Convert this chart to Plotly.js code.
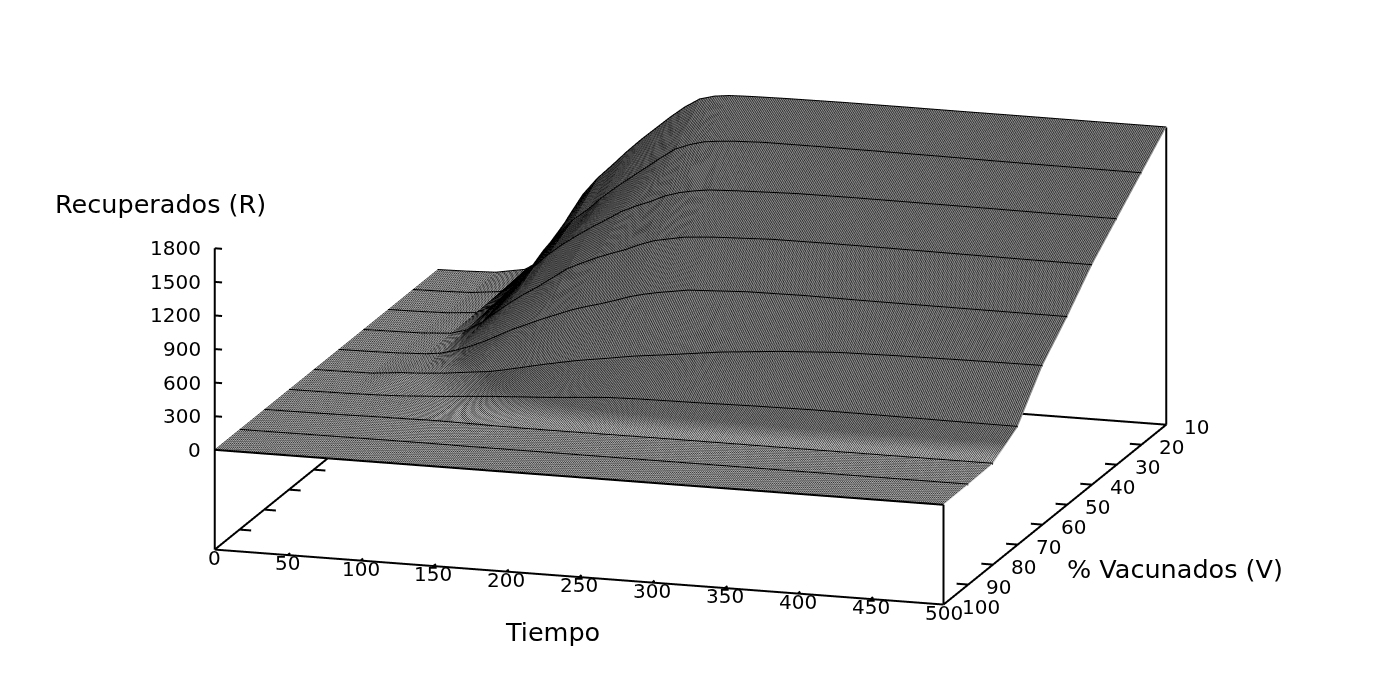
<!DOCTYPE html>
<html>
<head>
<meta charset="utf-8">
<script src="https://cdn.plot.ly/plotly-3.0.1.min.js"></script>
<style>
html, body { margin: 0; padding: 0; background: #fff; }
#plot { width: 1381px; height: 689px; }
</style>
</head>
<body>
<div id="plot"></div>
<script>
const tiempo = [0, 20, 40, 60, 70, 80, 90, 100, 110, 120, 130, 140, 150, 160, 170, 180, 190, 200, 210, 220, 240, 280, 320, 360, 400, 450, 500];
const vacunados = [10, 20, 30, 40, 50, 60, 70, 80, 90, 100];

// values, one row per % vacunados
const r10 = [0, 5, 15, 60, 140, 330, 560, 770, 925, 1050, 1180, 1300, 1410, 1520, 1620, 1700, 1735, 1750, 1755, 1758, 1762, 1766, 1766, 1765, 1765, 1764, 1764];
const r20 = [0, 4, 12, 40, 120, 250, 440, 600, 730, 830, 950, 1054, 1150, 1245, 1340, 1430, 1480, 1515, 1530, 1540, 1550, 1550, 1548, 1545, 1540, 1536, 1533];
const r30 = [0, 3, 10, 30, 90, 190, 340, 480, 600, 700, 790, 873, 950, 1030, 1090, 1140, 1200, 1240, 1265, 1283, 1295, 1310, 1312, 1310, 1308, 1304, 1301];
const r40 = [0, 3, 8, 25, 60, 130, 230, 330, 420, 500, 590, 680, 740, 797, 845, 890, 945, 990, 1015, 1040, 1060, 1080, 1082, 1080, 1076, 1072, 1069];
const r50 = [0, 3, 8, 20, 35, 70, 115, 170, 235, 300, 355, 410, 460, 510, 550, 585, 625, 668, 700, 725, 765, 790, 795, 790, 788, 786, 784];
const r60 = [0, 2, 6, 30, 36, 45, 55, 70, 85, 98, 122, 150, 178, 205, 230, 255, 275, 294, 315, 335, 365, 430, 475, 505, 515, 522, 526];
const r70 = [0, 1, 4, 10, 14, 20, 28, 36, 45, 55, 65, 75, 82, 90, 97, 105, 115, 125, 135, 143, 150, 156, 165, 170, 168, 163, 160];
const r80 = [0, 1, 3, 6, 8, 10, 11, 12, 14, 15, 13, 12, 10, 8, 7, 6, 6, 6, 6, 7, 8, 9, 9, 9, 9, 9, 9];
const r90 = [0, 0, 1, 2, 2, 2, 3, 3, 3, 3, 3, 3, 2, 2, 2, 2, 2, 2, 2, 2, 2, 2, 2, 2, 2, 2, 2];
const r100 = [0, 0, 0, 0, 0, 0, 0, 0, 0, 0, 0, 0, 0, 0, 0, 0, 0, 0, 0, 0, 0, 0, 0, 0, 0, 0, 0];
const recuperados = [r10, r20, r30, r40, r50, r60, r70, r80, r90, r100];

const tiempoTicks = [0, 50, 100, 150, 200, 250, 300, 350, 400, 450, 500];
const vacunadosTicks = [10, 20, 30, 40, 50, 60, 70, 80, 90, 100];
const recuperadosTicks = [0, 300, 600, 900, 1200, 1500, 1800];

const zBase = -891;
const zTop = 1800;
const tickFont = { family: 'DejaVu Sans', size: 20, color: '#000' };
const titleFont = { family: 'DejaVu Sans', size: 25.5, color: '#000' };

function segments(list) {
    // list of [x0, y0, z0, x1, y1, z1], turned into one line trace with gaps
    const x = [], y = [], z = [];
    list.forEach((s) => {
        x.push(s[0], s[3], null);
        y.push(s[1], s[4], null);
        z.push(s[2], s[5], null);
    });
    return {
        type: 'scatter3d', mode: 'lines', x, y, z,
        line: { color: '#000', width: 4 },
        hoverinfo: 'skip', showlegend: false,
    };
}

const frame = [
    [0, 100, zBase, 500, 100, zBase],
    [0, 10, zBase, 500, 10, zBase],
    [0, 100, zBase, 0, 10, zBase],
    [500, 100, zBase, 500, 10, zBase],
    [0, 100, zBase, 0, 100, zTop],
    [500, 100, zBase, 500, 100, 0],
    [500, 10, zBase, 500, 10, r10[r10.length - 1]],
];
const ticks = [];
tiempoTicks.slice(1, -1).forEach((t) => ticks.push([t, 100, zBase, t, 99, zBase]));
vacunadosTicks.slice(1, -1).forEach((v) => {
    ticks.push([0, v, zBase, 8, v, zBase]);
    ticks.push([500, v, zBase, 492, v, zBase]);
});
recuperadosTicks.forEach((r) => ticks.push([0, 100, r, 5, 100, r]));

const surface = {
    type: 'surface',
    x: tiempo,
    y: vacunados,
    z: recuperados,
    showscale: false,
    cmin: 0,
    cmax: 1800,
    // the low, hatched part of the surface reads lighter than the rest
    colorscale: [[0, '#c8c8c8'], [0.02, '#c8c8c8'], [0.05, '#8c8c8c'], [1, '#8c8c8c']],
    lighting: { ambient: 1, diffuse: 0, specular: 0, roughness: 1, fresnel: 0 },
    hoverinfo: 'skip',
    contours: {
        x: { show: true, start: 0, end: 500, size: 1.25, color: '#000', width: 1, highlight: false },
        y: { show: false, highlight: false },
        z: { show: false, highlight: false },
    },
};

// heavy lines along each % vacunados row
const rowLines = vacunados.map((v, i) => ({
    type: 'scatter3d', mode: 'lines',
    x: tiempo,
    y: tiempo.map(() => v),
    z: recuperados[i],
    line: { color: '#000', width: 4 },
    hoverinfo: 'skip', showlegend: false,
}));

const sceneLabels = [];
tiempoTicks.forEach((t) => sceneLabels.push({
    x: t, y: 100, z: zBase, text: String(t), showarrow: false,
    font: tickFont, xanchor: 'center', yanchor: 'middle', yshift: -8,
}));
vacunadosTicks.forEach((v) => sceneLabels.push({
    x: 500, y: v, z: zBase, text: String(v), showarrow: false,
    font: tickFont, xanchor: 'left', yanchor: 'middle', xshift: 16, yshift: -2,
}));
recuperadosTicks.forEach((r) => sceneLabels.push({
    x: 0, y: 100, z: r, text: String(r), showarrow: false,
    font: tickFont, xanchor: 'right', yanchor: 'middle', xshift: -12,
}));

function bareAxis(range) {
    return {
        range, title: { text: '' },
        showgrid: false, zeroline: false, showline: false, showticklabels: false,
        ticks: '', showbackground: false, showspikes: false,
    };
}

function paperTitle(text, x, y) {
    return {
        xref: 'paper', yref: 'paper', x: x / 1381, y: 1 - y / 689,
        text, showarrow: false, font: titleFont, xanchor: 'center', yanchor: 'middle',
    };
}

const eyeScale = 1.8;
const boxScale = 2.212;
const centerZ = -0.024; // moves the box up on the page
const layout = {
    width: 1381,
    height: 689,
    margin: { l: 0, r: 0, t: 0, b: 0 },
    paper_bgcolor: '#fff',
    showlegend: false,
    scene: {
        domain: { x: [0, 1], y: [0, 1] },
        aspectmode: 'manual',
        // ranges are padded a little so the frame lines are not clipped at the box walls
        aspectratio: { x: boxScale * 510 / 500, y: boxScale * 100 / 90, z: 0.408 * boxScale * 2751 / 2691 },
        camera: {
            projection: { type: 'orthographic' },
            eye: { x: 0.283 * eyeScale, y: -0.926 * eyeScale, z: 0.2466 * eyeScale + centerZ },
            up: { x: 0, y: 0, z: 1 },
            center: { x: 0, y: 0, z: centerZ },
        },
        xaxis: bareAxis([-5, 505]),
        yaxis: bareAxis([105, 5]),
        zaxis: bareAxis([zBase - 30, zTop + 30]),
        annotations: sceneLabels,
    },
    annotations: [
        paperTitle('Recuperados (R)', 160, 204),
        paperTitle('Tiempo', 552, 632),
        paperTitle('% Vacunados (V)', 1175, 569),
    ],
};

Plotly.newPlot('plot', [surface, ...rowLines, segments(frame), segments(ticks)], layout, { displayModeBar: false });
</script>
</body>
</html>
